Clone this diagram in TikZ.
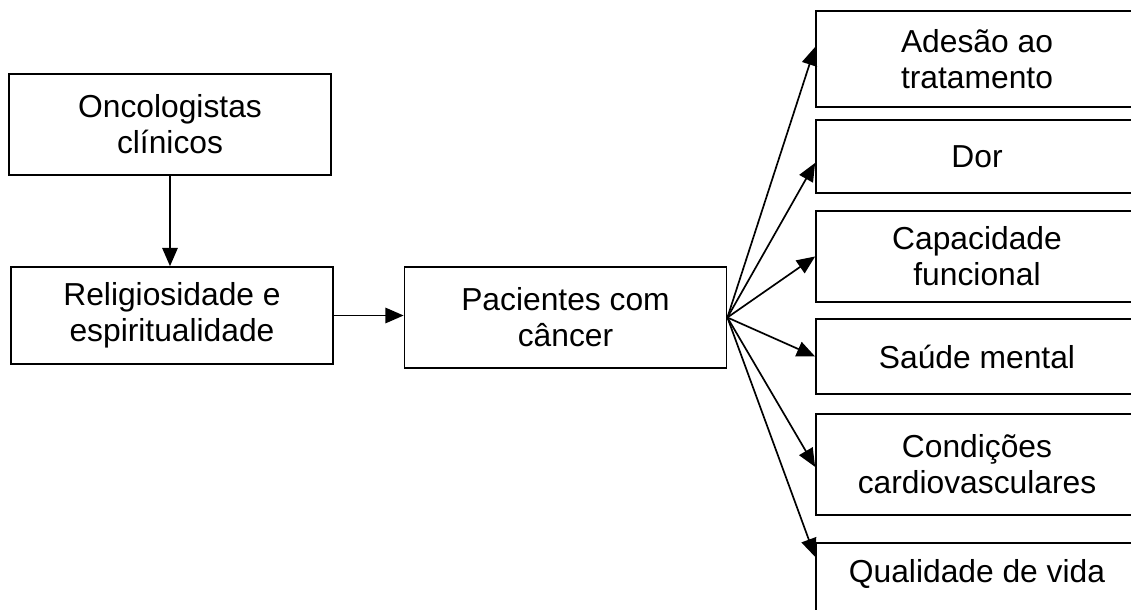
\documentclass[tikz,border=0pt]{standalone}
\usepackage{fontspec}
\setmainfont{Liberation Sans}
\usetikzlibrary{arrows.meta}

\begin{document}
\begin{tikzpicture}[
    x=0.025cm, y=-0.025cm,
    box/.style={draw, line width=1.2pt, minimum width=8.05cm, align=center,
        font=\fontsize{22.6}{25.5}\selectfont},
    arr/.style={line width=1.2pt, -{Triangle[length=13pt,width=11pt]}}
]
\useasboundingbox (0,0) rectangle (1131,610);
\clip (0,0) rectangle (1131,610);
% left column
\node[box, minimum height=2.525cm] (onc) at (170,124.5) {Oncologistas\\clínicos};
\node[box, minimum height=2.425cm] (rel) at (172,315.5) {Religiosidade e\\espiritualidade};
\node[box, minimum height=2.525cm] (pac) at (565.5,317.5) {Pacientes com\\câncer};
% outcomes
\node[box, minimum height=2.4cm] (ades) at (977,59) {Adesão ao\\tratamento};
\node[box, minimum height=1.825cm] (dor) at (977,156.5) {Dor};
\node[box, minimum height=2.275cm] (cap) at (977,256.5) {Capacidade\\funcional};
\node[box, minimum height=1.875cm] (saude) at (977,356.5) {Saúde mental};
\node[box, minimum height=2.525cm] (card) at (977,464.5) {Condições\\cardiovasculares};
\node[box, anchor=north, inner ysep=0pt, text height=1cm, text depth=1.2cm] (qual) at (977,542) {Qualidade de vida};

\draw[arr] (onc.south) -- (onc.south |- rel.north);
\draw[arr] (rel.east) -- (rel.east -| pac.west);
\draw[arr] (pac.east) -- ([yshift=0.3cm]ades.west);
\draw[arr] (pac.east) -- ([yshift=-0.16cm]dor.west);
\draw[arr] (pac.east) -- (cap.west);
\draw[arr] (pac.east) -- (saude.west);
\draw[arr] (pac.east) -- ([yshift=-0.06cm]card.west);
\draw[arr] (pac.east) -- ([yshift=0.75cm]qual.west);
\end{tikzpicture}
\end{document}
